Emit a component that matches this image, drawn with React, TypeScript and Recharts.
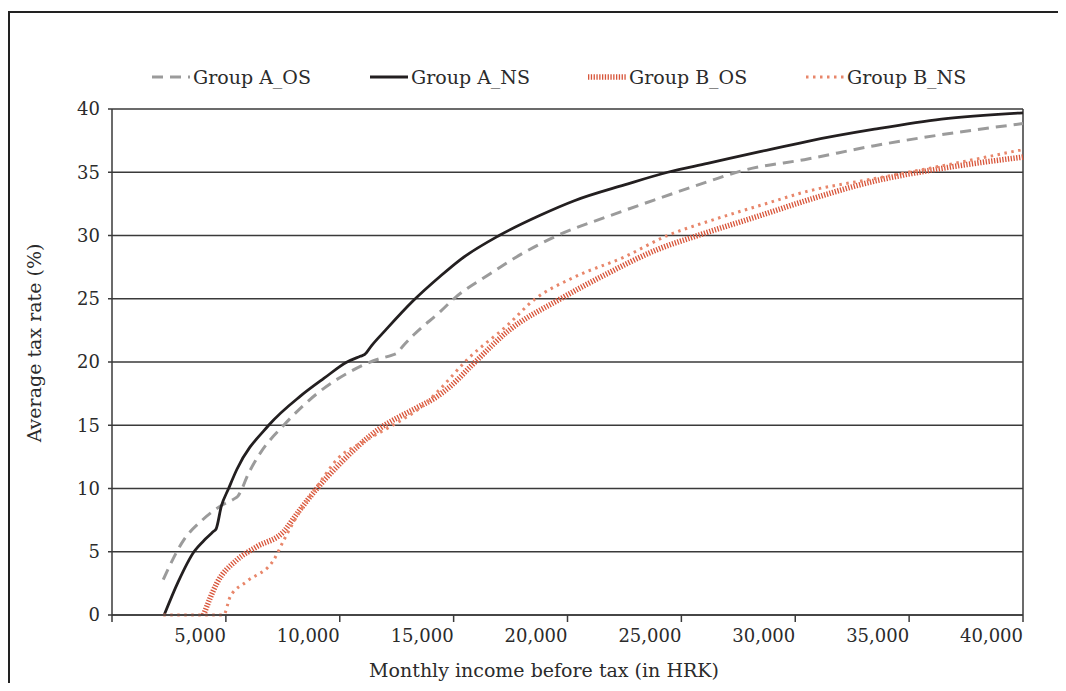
import { LineChart, Line, XAxis, YAxis, CartesianGrid, ReferenceLine } from "recharts";

const xTicks = [0, 5000, 10000, 15000, 20000, 25000, 30000, 35000, 40000];
const yTicks = [0, 5, 10, 15, 20, 25, 30, 35, 40];

// Group A, old system (dashed grey)
const incomeA_OS = [2250, 3140, 3960, 4750, 5380, 5530, 5700, 5920, 6510, 7540, 9000, 10470, 11640, 12300, 12520, 12750, 13250, 14425, 15010, 16620, 18090, 19560, 21760, 23960, 26150, 27620, 30550, 33480, 36420, 40000];
const rateA_OS = [2.8, 5.9, 7.5, 8.6, 9.2, 9.4, 9.95, 10.9, 12.8, 15.0, 17.5, 19.25, 20.2, 20.55, 20.7, 21.2, 22.15, 24.0, 25.0, 27.0, 28.65, 30.0, 31.5, 32.9, 34.25, 35.1, 36.05, 37.1, 37.97, 38.85];

// Group A, new system (solid black)
const incomeA_NS = [2290, 2900, 3600, 4100, 4450, 4570, 4800, 5120, 5480, 6880, 8270, 9300, 10320, 10900, 11100, 11400, 12000, 13200, 14425, 15300, 17000, 18800, 20300, 22500, 24400, 26150, 28500, 30550, 33480, 36420, 40000];
const rateA_NS = [0, 2.6, 5.0, 6.0, 6.6, 6.8, 8.6, 10.0, 11.5, 15.0, 17.3, 18.7, 20.0, 20.45, 20.6, 21.3, 22.5, 24.8, 26.8, 28.1, 30.0, 31.6, 32.75, 34.0, 35.0, 35.7, 36.65, 37.45, 38.4, 39.2, 39.7];

// Group B, old system (thick red hatched)
const incomeB_OS = [4020, 4600, 5480, 6360, 7540, 8120, 9000, 10030, 11640, 13400, 14130, 14870, 15890, 17360, 19700, 21760, 23960, 25720, 28500, 30550, 33480, 36420, 40000];
const rateB_OS = [0, 2.5, 4.35, 5.4, 6.6, 8.0, 10.0, 12.0, 14.6, 16.4, 17.1, 18.1, 19.9, 22.4, 25.0, 27.0, 28.9, 30.0, 31.6, 32.8, 34.3, 35.3, 36.2];

// Group B, new system (salmon dotted)
const incomeB_NS = [2250, 4900, 5190, 5920, 7100, 7540, 8120, 9000, 9880, 11200, 12520, 13690, 14425, 15600, 17360, 18520, 20290, 22490, 24390, 26150, 28500, 30550, 33480, 36420, 40000];
const rateB_NS = [0, 0, 1.45, 2.65, 4.35, 5.9, 7.8, 10.15, 12.3, 13.85, 15.2, 16.6, 17.9, 20.2, 22.9, 24.9, 26.7, 28.3, 30.0, 31.1, 32.4, 33.5, 34.5, 35.5, 36.8];

const toPoints = (xs: number[], ys: number[]) => xs.map((x, i) => ({ income: x, rate: ys[i] }));

const FONT = "'DejaVu Serif', serif";
const TEXT = "#2b2b2b";
const AXIS = "#3a3a3a";

const series = [
  { name: "Group A_OS", data: toPoints(incomeA_OS, rateA_OS), color: "#9b9b9b", width: 3, dash: "11 7" },
  { name: "Group A_NS", data: toPoints(incomeA_NS, rateA_NS), color: "#231f20", width: 2.8, dash: undefined },
  { name: "Group B_OS", data: toPoints(incomeB_OS, rateB_OS), color: "#d8553a", width: 5.5, dash: "1.3 1.5" },
  { name: "Group B_NS", data: toPoints(incomeB_NS, rateB_NS), color: "#e8866a", width: 3, dash: "2.5 4.5" },
];

const XTick = (props: any) => {
  const { x, y, payload } = props;
  if (payload.value === 0) return null;
  return (
    <text x={x} y={y + 18} textAnchor="end" fontFamily={FONT} fontSize={18} fill={TEXT}>
      {payload.value.toLocaleString("en-US")}
    </text>
  );
};

const Legend = () => (
  <div style={{ position: "absolute", left: 144, top: 58, display: "flex", fontFamily: FONT, fontSize: 19, color: TEXT }}>
    {series.map((s) => (
      <div key={s.name} style={{ width: 218, display: "flex", alignItems: "center" }}>
        <svg width={38} height={10} style={{ marginRight: 3 }}>
          <line x1={0} y1={5} x2={38} y2={5} stroke={s.color} strokeWidth={s.width} strokeDasharray={s.dash} />
        </svg>
        <span>{s.name}</span>
      </div>
    ))}
  </div>
);

export default function App() {
  return (
    <div style={{ position: "relative", width: 1058, height: 675, overflow: "hidden" }}>
      <div style={{ position: "absolute", left: 0, top: 3, width: 1058, height: 1.5, background: "#222" }} />
      <div style={{ position: "absolute", left: 0, top: 3, width: 1.5, height: 672, background: "#222" }} />
      <Legend />
      <LineChart width={1058} height={683} margin={{ top: 101, right: 43, bottom: 36, left: 44 }}>
        <CartesianGrid vertical={false} stroke={AXIS} strokeWidth={1.3} />
        <XAxis
          dataKey="income"
          type="number"
          domain={[0, 40000]}
          ticks={xTicks}
          height={40}
          tickSize={7}
          stroke={AXIS}
          strokeWidth={1.5}
          tick={<XTick />}
          label={{ value: "Monthly income before tax (in HRK)", content: () => (
            <text x={536} y={669} textAnchor="middle" fontFamily={FONT} fontSize={19} fill={TEXT}>
              Monthly income before tax (in HRK)
            </text>
          ) }}
        />
        <YAxis
          type="number"
          domain={[0, 40]}
          ticks={yTicks}
          width={60}
          tickSize={4}
          tickMargin={8}
          stroke={AXIS}
          strokeWidth={1.5}
          tick={{ fontFamily: FONT, fontSize: 18, fill: TEXT }}
          label={{ value: "Average tax rate (%)", content: () => (
            <text x={33} y={335} transform="rotate(-90 33 335)" textAnchor="middle" fontFamily={FONT} fontSize={19} fill={TEXT}>
              Average tax rate (%)
            </text>
          ) }}
        />
        <ReferenceLine x={40000} stroke={AXIS} strokeWidth={1.5} />
        {series.map((s) => (
          <Line
            key={s.name}
            data={s.data}
            dataKey="rate"
            name={s.name}
            type="monotone"
            stroke={s.color}
            strokeWidth={s.width}
            strokeDasharray={s.dash}
            dot={false}
            activeDot={false}
            isAnimationActive={false}
          />
        ))}
      </LineChart>
    </div>
  );
}
